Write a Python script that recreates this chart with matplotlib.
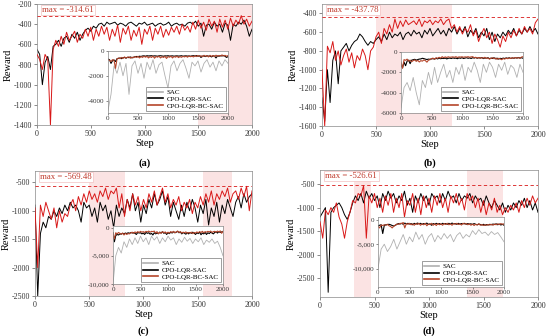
import numpy as np
import matplotlib
matplotlib.use("Agg")
import matplotlib.pyplot as plt

plt.rcParams['font.family'] = ['Liberation Serif', 'DejaVu Serif']
plt.rcParams['axes.unicode_minus'] = False

steps = list(range(0, 2001, 25))
sac_steps = list(range(0, 2001, 50))

a_lqr = [-650, -700, -1000, -780, -720, -850, -620, -600, -560, -620, -540, -520, -580, -500, -540, -480,
         -560, -500, -460, -440, -470, -420, -440, -400, -390, -420, -380, -400, -390, -380, -410, -390,
         -400, -420, -390, -380, -400, -420, -390, -400, -380, -410, -400, -390, -420, -400, -390, -410,
         -400, -380, -420, -400, -390, -410, -400, -420, -390, -380, -400, -370, -420, -390, -520, -410,
         -400, -450, -380, -420, -400, -480, -390, -410, -560, -400, -420, -380, -400, -360, -420, -520, -450]
a_bc = [-700, -750, -850, -700, -750, -1400, -650, -560, -620, -520, -600, -480, -560, -520, -470, -580,
        -500, -540, -450, -520, -430, -560, -450, -520, -420, -500, -430, -560, -450, -520, -410, -580,
        -440, -500, -420, -560, -460, -520, -430, -600, -450, -500, -420, -560, -440, -500, -420, -530,
        -450, -510, -430, -480, -420, -500, -400, -460, -420, -480, -380, -450, -360, -440, -380, -460,
        -350, -420, -370, -480, -350, -430, -360, -450, -340, -420, -360, -400, -315, -400, -350, -420, -370]
a_sac = [-4800, -3500, -1200, -1800, -900, -2000, -1000, -3500, -1200, -800, -1800, -1000, -2200, -900,
         -1500, -700, -1800, -1100, -900, -2000, -3000, -1200, -800, -1600, -1000, -700, -1400, -2200,
         -900, -1200, -800, -1700, -1000, -700, -1300, -900, -1600, -800, -1200, -700, -1000]

b_lqr = [-1300, -1550, -1000, -1350, -900, -800, -1150, -800, -760, -720, -800, -740, -700, -680, -620, -650,
         -700, -740, -700, -720, -680, -650, -700, -620, -680, -600, -660, -620, -640, -600, -680, -620,
         -600, -640, -580, -620, -600, -660, -580, -620, -560, -640, -600, -560, -620, -580, -640, -560,
         -600, -540, -620, -560, -600, -540, -650, -580, -620, -560, -660, -600, -640, -560, -680, -600,
         -700, -620, -660, -600, -640, -580, -620, -560, -640, -580, -620, -560, -600, -540, -600, -560, -620]
b_bc = [-1000, -1600, -750, -820, -700, -900, -800, -950, -850, -780, -920, -820, -980, -850, -900, -780,
        -850, -1000, -800, -760, -650, -600, -720, -560, -620, -520, -600, -460, -560, -480, -540, -470,
        -520, -500, -480, -520, -460, -540, -480, -500, -470, -520, -480, -500, -460, -520, -480, -460,
        -560, -520, -600, -540, -620, -560, -600, -520, -640, -580, -700, -620, -560, -660, -600, -720,
        -620, -680, -760, -640, -700, -600, -660, -580, -640, -560, -620, -540, -600, -560, -620, -500, -460]
b_sac = [-5500, -3500, -3000, -3800, -2500, -4000, -5200, -2800, -3500, -2000, -3200, -1500, -3000, -2000,
         -1200, -2500, -1800, -3000, -1500, -2200, -1200, -2800, -1500, -2000, -1000, -1800, -3000, -1200,
         -2000, -1000, -1500, -2500, -1200, -1800, -1000, -2200, -1300, -1600, -2500, -1200, -2000]

c_lqr = [-900, -2500, -1400, -1200, -1300, -1100, -1150, -1000, -1100, -950, -1050, -900, -1000, -850, -950, -900,
         -1000, -1200, -850, -950, -900, -1100, -950, -1200, -850, -1000, -900, -1150, -1000, -1300, -900, -1100,
         -950, -1050, -800, -950, -700, -1000, -850, -1200, -900, -1050, -800, -950, -700, -900, -800, -650,
         -900, -750, -1100, -850, -1000, -1150, -900, -1100, -850, -1000, -800, -950, -1200, -900, -1050, -800,
         -1250, -950, -1100, -850, -1200, -900, -1050, -800, -950, -1100, -850, -750, -950, -700, -850, -750, -700]
c_bc = [-950, -2000, -900, -1100, -850, -1000, -1150, -950, -1300, -1000, -1200, -1050, -1100, -900, -800, -1000,
        -750, -900, -700, -850, -650, -800, -700, -850, -650, -750, -600, -800, -650, -700, -600, -950,
        -700, -1100, -800, -1000, -700, -900, -750, -1000, -800, -950, -700, -850, -650, -900, -750, -600,
        -850, -700, -950, -800, -900, -750, -1000, -850, -950, -800, -1050, -850, -950, -750, -900, -700,
        -850, -650, -900, -700, -800, -650, -750, -600, -850, -700, -650, -800, -600, -750, -570, -1000, -650]
c_sac = [-10000, -5000, -3500, -4500, -2500, -3500, -2000, -3000, -1800, -2800, -1500, -2500, -1800, -3000,
         -1500, -2200, -1600, -2800, -1800, -2500, -1500, -2200, -1800, -3000, -2000, -2600, -1700, -2400,
         -1900, -2800, -2000, -2500, -1800, -3000, -2200, -2600, -2000, -2800, -2400, -3500, -5000]

d_lqr = [-1200, -1100, -1000, -2800, -1100, -1000, -950, -900, -1000, -1150, -1250, -1100, -900, -750, -850, -700,
         -900, -650, -800, -700, -850, -750, -1000, -700, -850, -650, -800, -700, -900, -750, -850, -650,
         -950, -800, -1100, -750, -900, -700, -850, -750, -950, -700, -800, -750, -900, -700, -850, -650,
         -800, -750, -900, -700, -850, -750, -800, -700, -900, -750, -850, -800, -950, -750, -900, -1000,
         -850, -950, -1050, -900, -1100, -950, -1050, -900, -1000, -850, -950, -800, -1000, -850, -1050, -900, -1100]
d_bc = [-1300, -1650, -1050, -1150, -1000, -1100, -900, -1200, -1350, -1650, -1300, -1100, -850, -900, -700, -750,
        -530, -1650, -750, -900, -700, -1000, -800, -1100, -750, -950, -700, -1100, -800, -1000, -700, -1200,
        -850, -950, -700, -1100, -800, -1150, -750, -1000, -800, -1100, -750, -950, -700, -1000, -800, -1100,
        -750, -900, -700, -950, -800, -1050, -700, -850, -750, -1000, -800, -1100, -850, -1150, -900, -1050,
        -800, -1100, -950, -1150, -1000, -1100, -950, -1050, -900, -1100, -850, -1000, -800, -950, -750, -900, -800]
d_sac = [-10000, -6000, -5000, -6500, -5500, -4000, -6000, -4500, -3000, -5000, -3500, -4500, -2500, -4000,
         -3000, -5000, -3500, -2800, -4500, -3200, -4000, -2800, -3800, -3000, -4500, -3200, -2600, -3800,
         -3000, -3500, -2200, -3000, -2000, -2800, -2500, -3200, -2400, -3000, -2600, -3500, -4500]

max_labels = ["max = -314.61", "max = -437.78", "max = -569.48", "max = -526.61"]
max_values = [-314.61, -437.78, -569.48, -526.61]
panel_labels = ["(a)", "(b)", "(c)", "(d)"]
legend_labels = ["SAC", "CPO-LQR-SAC", "CPO-LQR-BC-SAC"]

W, H = 550, 336
fig = plt.figure(figsize=(5.5, 3.36), dpi=100)

def ax_px(x0, x1, ytop, ybot):
    return [x0 / W, 1 - ybot / H, (x1 - x0) / W, (ybot - ytop) / H]

panels = [
    dict(lqr=a_lqr, bc=a_bc, sac=a_sac, pos=(37, 252, 4, 125), ylim=(-1400, -200), yt=np.arange(-1400, -199, 200),
         ipos=(108, 228, 51, 113), iylim=(-5000, 0), iyt=[-4000, -2000, 0], iytl=["-4000", "-2000", "0"],
         spans=[(1500, 2000)], lab_y=163),
    dict(lqr=b_lqr, bc=b_bc, sac=b_sac, pos=(322, 538, 4, 126), ylim=(-1600, -300), yt=np.arange(-1600, -399, 200),
         ipos=(401, 523, 52, 113), iylim=(-6000, 0), iyt=[-6000, -4000, -2000, 0], iytl=["-6000", "-4000", "-2000", "0"],
         spans=[(500, 1200)], lab_y=163),
    dict(lqr=c_lqr, bc=c_bc, sac=c_sac, pos=(35, 252, 171, 296), ylim=(-2500, -300), yt=np.arange(-2500, -499, 500),
         ipos=(113, 223, 226, 284), iylim=(-10000, 300), iyt=[-10000, -5000, 0], iytl=["-10,000", "-5,000", "0"],
         spans=[(500, 830), (1550, 1820)], lab_y=331),
    dict(lqr=d_lqr, bc=d_bc, sac=d_sac, pos=(320, 538, 170, 297), ylim=(-2900, -200), yt=np.arange(-2500, -499, 500),
         ipos=(378, 504, 217, 287), iylim=(-13800, 600), iyt=[-10000, -5000, 0], iytl=["-10,000", "-5,000", "0"],
         spans=[(310, 470), (1350, 1680)], lab_y=331),
]

RED = '#d81818'
BROWN = '#b5452a'
GREY = '#b0b0b0'
SHADE = '#fbe3e3'

for i, p in enumerate(panels):
    ax = fig.add_axes(ax_px(*p['pos']))
    for s0, s1 in p['spans']:
        ax.axvspan(s0, s1, color=SHADE, lw=0, zorder=0)
    ax.plot(steps, p['lqr'], color='black', lw=0.7, zorder=2)
    ax.plot(steps, p['bc'], color=RED, lw=0.7, zorder=3)
    ax.axhline(max_values[i], color=RED, lw=0.6, ls=(0, (4, 3)), zorder=4)
    ax.text(0.025, 0.985, max_labels[i], transform=ax.transAxes, ha='left', va='top', fontsize=6.3,
            color='#c0392b', zorder=5,
            bbox=dict(boxstyle='square,pad=0.15', fc='white', ec='#f2c0c0', lw=0.5))
    ax.set_xlim(0, 2000)
    ax.set_ylim(*p['ylim'])
    ax.set_xticks([0, 500, 1000, 1500, 2000])
    ax.set_yticks(p['yt'])
    ax.tick_params(labelsize=5.8, length=2, width=0.4, pad=1.5, direction='out', colors='#333333')
    for sp in ax.spines.values():
        sp.set_linewidth(0.5)
        sp.set_color('#888888')
    ax.set_xlabel('Step', fontsize=7.5, labelpad=1)
    ax.set_ylabel('Reward', fontsize=7.5, labelpad=1)
    x0, x1 = p['pos'][0], p['pos'][1]
    fig.text((x0 + x1) / 2 / W, 1 - p['lab_y'] / H, panel_labels[i], ha='center', va='center',
             fontsize=7.5, fontweight='bold')

    iax = fig.add_axes(ax_px(*p['ipos']))
    iax.set_facecolor('white')
    l1, = iax.plot(sac_steps, p['sac'], color=GREY, lw=0.6)
    l2, = iax.plot(steps, p['lqr'], color='black', lw=0.8)
    l3, = iax.plot(steps, p['bc'], color=BROWN, lw=0.8)
    iax.set_xlim(0, 2000)
    iax.set_ylim(*p['iylim'])
    iax.set_xticks([0, 500, 1000, 1500, 2000])
    iax.set_yticks(p['iyt'])
    iax.set_yticklabels(p['iytl'])
    iax.tick_params(labelsize=5, length=1.5, width=0.4, pad=1, colors='#333333')
    for sp in iax.spines.values():
        sp.set_linewidth(0.5)
        sp.set_color('#888888')
    leg = iax.legend([l1, l2, l3], legend_labels, loc='lower right', fontsize=5, frameon=True,
                     fancybox=False, borderpad=0.3, labelspacing=0.15, handlelength=2.2,
                     handletextpad=0.5, borderaxespad=0.3)
    leg.get_frame().set_edgecolor('#555555')
    leg.get_frame().set_linewidth(0.5)
    for lh in leg.get_lines():
        lh.set_linewidth(1.2)

fig.savefig('out.png', dpi=100)
